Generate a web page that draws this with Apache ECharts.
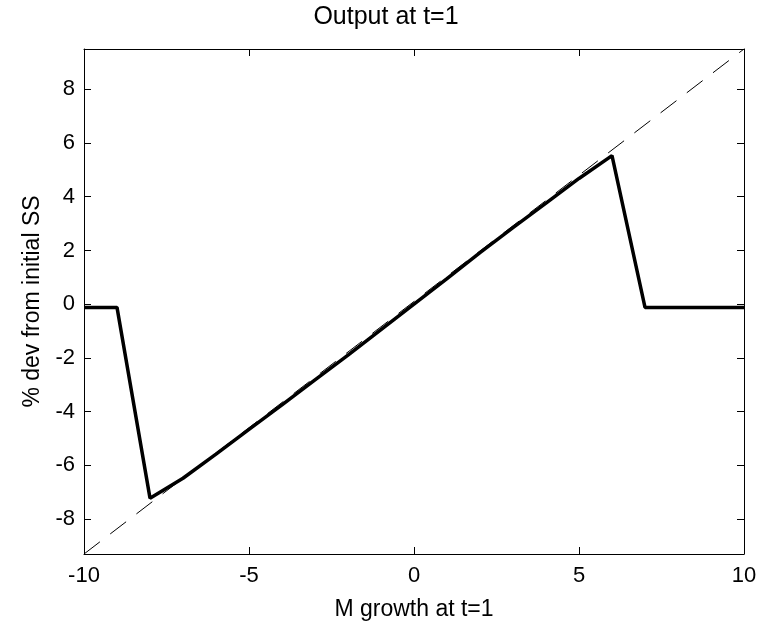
<!DOCTYPE html>
<html>
<head>
<meta charset="utf-8">
<script src="https://cdn.jsdelivr.net/npm/echarts@6/dist/echarts.min.js"></script>
<style>html,body{margin:0;padding:0;background:#fff}#c{width:772px;height:631px}</style>
</head>
<body>
<div id="c"></div>
<script>
var growth = [-10,-9,-8,-7,-6,-5,-4,-3,-2,-1,0,1,2,3,4,5,6,7,8,9,10];
var output = [-0.12,-0.12,-7.22,-6.48,-5.58,-4.66,-3.75,-2.82,-1.9,-0.95,0,0.95,1.92,2.85,3.76,4.68,5.53,-0.12,-0.12,-0.12,-0.12];
var refX = [-10, 10];
var refY = [-9.3, 9.5];
var xTicks = [-10,-5,0,5,10];
var yTicks = [-8,-6,-4,-2,0,2,4,6,8];

var font = 'Liberation Sans, Arial, Helvetica, sans-serif';
var chart = echarts.init(document.getElementById('c'));
function xAx(pos, show) {
  return {type:'value', position:pos, min:-10, max:10, interval:5,
    axisLine:{show:true, onZero:false, lineStyle:{color:'#000', width:1}},
    axisTick:{show:true, inside:true, length:7, lineStyle:{color:'#000'}},
    axisLabel:{show:show, color:'#000', fontSize:22, fontFamily:font, margin:11},
    splitLine:{show:false},
    name: show ? 'M growth at t=1' : '', nameLocation:'middle', nameGap:44,
    nameTextStyle:{color:'#000', fontSize:23, fontFamily:font}};
}
function yAx(pos, show) {
  return {type:'value', position:pos, min:refY[0], max:refY[1],
    axisLine:{show:true, onZero:false, lineStyle:{color:'#000', width:1}},
    axisTick:{show:true, inside:true, length:7, customValues:yTicks, lineStyle:{color:'#000'}},
    axisLabel:{show:show, customValues:yTicks, color:'#000', fontSize:22, fontFamily:font, margin:9},
    splitLine:{show:false},
    name: show ? '% dev from initial SS' : '', nameLocation:'middle', nameGap:40,
    nameTextStyle:{color:'#000', fontSize:23, fontFamily:font}};
}
chart.setOption({
  backgroundColor:'#fff',
  animation:false,
  title:{text:'Output at t=1', left:'center', top:0,
    textStyle:{color:'#000', fontSize:25, fontWeight:'normal', fontFamily:font}},
  grid:{left:84, right:28, top:49, bottom:77},
  xAxis:[xAx('bottom', true), xAx('top', false)],
  yAxis:[yAx('left', true), yAx('right', false)],
  series:[
    {type:'line', data:refX.map(function(x,i){return [x, refY[i]];}), symbol:'none',
     lineStyle:{color:'#000', width:1, type:[20,13]}},
    {type:'line', data:growth.map(function(x,i){return [x, output[i]];}), symbol:'none',
     lineStyle:{color:'#000', width:3.5}}
  ]
});
</script>
</body>
</html>
